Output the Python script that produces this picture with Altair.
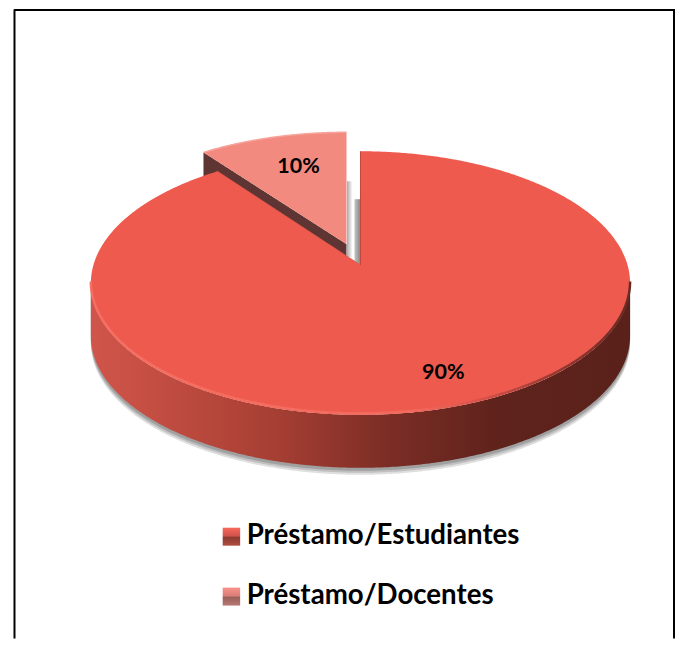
import numpy as np
import pandas as pd
import altair as alt

labels = ["Préstamo/Estudiantes", "Préstamo/Docentes"]
shares = [90, 10]
share_texts = ["90%", "10%"]

W, H = 668, 630
CX, CY, RX, RY = 361, 282, 270, 132
DEPTH = 53
APEX_RISE = 18
OFFSET = (-14, -19)
PERSPECTIVE = 0.89

xs = alt.X("x:Q", axis=None, scale=alt.Scale(domain=[8, 8 + W], range=[0, W], nice=False, zero=False))
ys = alt.Y("y:Q", axis=None, scale=alt.Scale(domain=[8, 8 + H], range=[0, H], nice=False, zero=False))
y2 = alt.Y2("y2:Q")

a = np.radians(shares[1] / 100 * 360 * PERSPECTIVE)


def arc_x(t1, t2, cx=CX, n=160):
    return cx + RX * np.sin(np.linspace(t1, t2, n))


def half(x, cx=CX):
    return RY * np.sqrt(np.clip(1 - ((x - cx) / RX) ** 2, 0, 1))


def band(x, top, bottom):
    return pd.DataFrame({"x": x, "y": top, "y2": bottom, "i": np.arange(len(x))})


def area(df, fill, **kw):
    return alt.Chart(df).mark_area(fill=fill, **kw).encode(x=xs, y=ys, y2=y2)


def line(df, stroke, width, **kw):
    return alt.Chart(df).mark_line(stroke=stroke, strokeWidth=width, **kw).encode(x=xs, y=ys, order="i:Q")


def h_grad(stops):
    return alt.Gradient(gradient="linear", x1=0, x2=1, y1=0, y2=0,
                        stops=[alt.GradientStop(offset=o, color=c) for o, c in stops])


def v_grad(stops):
    return alt.Gradient(gradient="linear", x1=0, x2=0, y1=0, y2=1,
                        stops=[alt.GradientStop(offset=o, color=c) for o, c in stops])


# Outer wall and its soft shadow
fx = arc_x(-np.pi / 2, np.pi / 2, n=300)
front = CY + half(fx)
layers = []
for dy, col, op in [(7, "#dcdcdc", 0.9), (5, "#bdbdbd", 0.9), (3, "#9c9c9c", 0.9)]:
    layers.append(area(band(fx, front + dy, front + DEPTH + dy), col, opacity=op))
layers.append(area(band(fx, front, front + DEPTH),
                   h_grad([(0, "#d0554a"), (0.1, "#c64f43"), (0.35, "#a53e33"), (0.55, "#7c2d25"),
                           (0.75, "#5f231c"), (1, "#5a211b")])))

# Exploded slice
sx_c, sy_c = CX + OFFSET[0], CY + OFFSET[1]
sx = arc_x(-a, 0, cx=sx_c)
s_corner = sx[0]
s_apex_y = sy_c - APEX_RISE - 2
s_corner_y = sy_c - half(np.array([s_corner]), sx_c)[0]
s_edge = s_corner_y + (s_apex_y - s_corner_y) * (sx - s_corner) / (sx_c - s_corner)
s_back = sy_c - half(sx, sx_c)
layers.append(area(band(sx, s_edge, s_edge + 28), "#5f3534"))
layers.append(area(band(np.array([sx_c + 0.5, sx_c + 6.0]), np.array([180.0, 180.0]), np.array([256.0, 256.0])),
                   h_grad([(0, "#a9a9a9"), (1, "#ffffff")])))
layers.append(area(band(np.array([CX - 6.0, CX]), np.array([198.0, 198.0]), np.array([268.0, 268.0])),
                   h_grad([(0, "#c4c4c4"), (1, "#868686")])))
layers.append(area(band(sx, s_back, s_edge), "#f28a80"))
layers.append(line(band(sx, s_back, s_back), "#f6a59c", 1.5))

# Main top face
m_left = arc_x(-np.pi / 2, -a)
m_mid = arc_x(-a, 0)
m_right = arc_x(0, np.pi / 2, n=200) + 0.001
corner_x, corner_y = m_mid[0], CY - half(m_mid[:1])[0]
apex_y = CY - APEX_RISE
m_edge = corner_y + (apex_y - corner_y) * (m_mid - corner_x) / (CX - corner_x)
mx = np.concatenate([m_left, m_mid, m_right])
m_top = np.concatenate([CY - half(m_left), m_edge, CY - half(m_right)])
layers.append(area(band(mx, m_top, CY + half(mx)), "#ee5a4e"))
layers.append(line(band(fx, front - 1.5, front), h_grad([(0, "#f56f63"), (0.6, "#f4695d"), (0.72, "#d9534a"),
                                                         (0.85, "#9a3a32"), (1, "#6a2a24")]), 2.5))
layers.append(line(band(m_mid, m_edge, m_edge), "#e2564b", 1))
layers.append(line(band(np.array([CX, CX]), np.array([150.0, apex_y]), np.array([150.0, apex_y])), "#c5443a", 1))

# Percent labels
pct = pd.DataFrame({"x": [444, 299], "y": [372, 166], "t": share_texts})
layers.append(alt.Chart(pct).mark_text(font="Lato", fontWeight="bold", fontSize=21.5, color="#000000").encode(
    x=xs, y=ys, text="t:N"))

# Legend
leg_y = [536, 596]
leg_fill = [
    v_grad([(0, "#f8695c"), (0.45, "#d3524a"), (0.55, "#8c3a32"), (1, "#b24c42")]),
    v_grad([(0, "#f8918a"), (0.45, "#d97f78"), (0.55, "#9a5f5a"), (1, "#b87872")]),
]
for yc, fill, lab in zip(leg_y, leg_fill, labels):
    sq = pd.DataFrame({"x": [223], "x2": [240.5], "y": [yc - 9], "y2": [yc + 9]})
    layers.append(alt.Chart(sq).mark_rect(fill=fill).encode(x=xs, x2="x2:Q", y=ys, y2=y2))
    t = pd.DataFrame({"x": [247], "y": [yc - 1], "t": [lab]})
    layers.append(alt.Chart(t).mark_text(font="Lato", fontWeight="bold", fontSize=27.7, color="#000000",
                                         align="left", baseline="middle").encode(x=xs, y=ys, text="t:N"))

# Frame
for x1, x2_, y1, y2_ in [(14.5, 14.5, 8, 638), (675, 675, 8, 638), (14, 676, 8.5, 8.5)]:
    fr = pd.DataFrame({"x": [x1], "x2": [x2_], "y": [y1], "y2": [y2_]})
    layers.append(alt.Chart(fr).mark_rule(color="#000000", strokeWidth=2).encode(x=xs, x2="x2:Q", y=ys, y2=y2))

chart = alt.layer(*layers).properties(width=W, height=H, padding=0).configure_view(stroke=None)
chart.save("out.html", embed_options={"renderer": "svg", "actions": False})
